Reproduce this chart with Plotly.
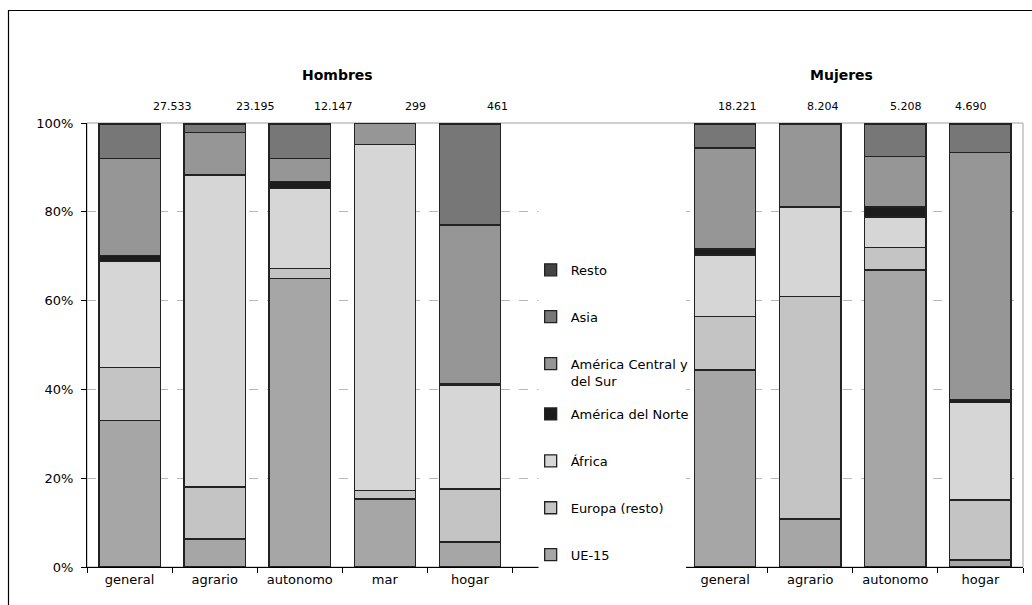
import plotly.graph_objects as go

# Composition of foreign workers by origin, per social-security regime (%)
hombres_cats = ["general", "agrario", "autonomo", "mar", "hogar"]
mujeres_cats = ["general", "agrario", "autonomo", "hogar"]

series_names = [
    "UE-15",
    "Europa (resto)",
    "África",
    "América del Norte",
    "América Central y<br>del Sur",
    "Asia",
    "Resto",
]
series_colors = ["#a6a6a6", "#c4c4c4", "#d6d6d6", "#1c1c1c", "#969696", "#777777", "#444444"]
# lower origins listed in a second legend block so the two-line entry keeps even spacing
series_legend = ["legend2", "legend2", "legend2", "legend2", "legend", "legend", "legend"]

hombres_ue15 = [33.0, 6.3, 64.9, 15.3, 5.6]
hombres_europa = [12.0, 11.7, 2.4, 2.0, 12.0]
hombres_africa = [23.8, 70.2, 18.0, 77.8, 23.4]
hombres_amnorte = [1.4, 0.2, 1.6, 0.0, 0.2]
hombres_amcentral = [21.8, 9.4, 5.1, 4.8, 35.8]
hombres_asia = [7.7, 1.9, 7.7, 0.0, 22.6]
hombres_resto = [0.3, 0.3, 0.3, 0.1, 0.4]

mujeres_ue15 = [44.4, 10.8, 66.9, 1.6]
mujeres_europa = [12.0, 50.1, 5.1, 13.5]
mujeres_africa = [13.9, 20.2, 6.8, 22.0]
mujeres_amnorte = [1.3, 0.1, 2.3, 0.5]
mujeres_amcentral = [22.8, 18.4, 11.3, 55.8]
mujeres_asia = [5.4, 0.0, 7.2, 6.4]
mujeres_resto = [0.2, 0.4, 0.4, 0.2]

hombres_totals = ["27.533", "23.195", "12.147", "299", "461"]
mujeres_totals = ["18.221", "8.204", "5.208", "4.690"]

hombres_series = [hombres_ue15, hombres_europa, hombres_africa, hombres_amnorte,
                  hombres_amcentral, hombres_asia, hombres_resto]
mujeres_series = [mujeres_ue15, mujeres_europa, mujeres_africa, mujeres_amnorte,
                  mujeres_amcentral, mujeres_asia, mujeres_resto]

# slot positions on the shared axis: men 0-4, two empty slots, women 7-10
hombres_x = list(range(len(hombres_cats)))
mujeres_x = [7 + i for i in range(len(mujeres_cats))]
all_x = hombres_x + mujeres_x
all_labels = hombres_cats + mujeres_cats

FONT = "DejaVu Sans"

fig = go.Figure()
n_series = len(series_names)
for i, name in enumerate(series_names):
    fig.add_trace(go.Bar(
        x=all_x,
        y=hombres_series[i] + mujeres_series[i],
        name=name,
        legend=series_legend[i],
        legendgroup=f"g{i}",
        legendrank=n_series - i,  # top of stack listed first
        marker=dict(color=series_colors[i], line=dict(color="#222222", width=1.3)),
        hoverinfo="skip",
    ))

# boundary ticks between slots
boundary_ticks = [v - 0.5 for v in range(12)]

legend_common = dict(
    x=0.474, xanchor="left", yanchor="top",
    bgcolor="rgba(0,0,0,0)",
    traceorder="grouped",
    tracegroupgap=27,
    valign="top",
    itemwidth=30,
    font=dict(family=FONT, size=13),
)

fig.update_layout(
    width=1032,
    height=605,
    margin=dict(l=87, r=9, t=123, b=38),
    paper_bgcolor="white",
    plot_bgcolor="white",
    barmode="stack",
    bargap=0.28,
    font=dict(family=FONT, size=13, color="#000000"),
    showlegend=True,
    legend=dict(y=0.703, **legend_common),
    legend2=dict(y=(567 - 399) / 444, **legend_common),
    xaxis=dict(
        range=[-0.5, 10.5],
        tickvals=all_x,
        ticktext=all_labels,
        ticks="",
        showgrid=False,
        zeroline=False,
        showline=True,
        linecolor="#000000",
        linewidth=1,
        tickfont=dict(family=FONT, size=13),
        minor=dict(tickvals=boundary_ticks, ticks="outside", ticklen=5,
                   tickcolor="#000000", showgrid=False),
    ),
    yaxis=dict(
        range=[0, 100],
        tickvals=[0, 20, 40, 60, 80, 100],
        ticktext=["0%", "20%", "40%", "60%", "80%", "100%"],
        ticks="outside",
        ticklen=5,
        tickcolor="#000000",
        ticklabelstandoff=5,
        showgrid=True,
        gridcolor="#b8b8b8",
        griddash="dash",
        gridwidth=1,
        zeroline=False,
        showline=True,
        linecolor="#000000",
        linewidth=1,
        tickfont=dict(family=FONT, size=13),
    ),
)

# plot-area border (top and right visible in grey)
fig.add_shape(type="rect", xref="x domain", yref="y domain", x0=0, x1=1, y0=0, y1=1,
              line=dict(color="#a0a0a0", width=1), layer="below")
# white panel behind the legend, hiding grid and axis in the empty slots
fig.add_shape(type="rect", xref="paper", yref="paper",
              x0=(538.5 - 87) / 936, x1=(686 - 87) / 936,
              y0=-0.02, y1=(567 - 125) / 444,
              line=dict(width=0), fillcolor="white", layer="above")
# outer chart frame
fig.add_shape(type="rect", xref="paper", yref="paper",
              x0=(8.5 - 87) / 936, x1=(1045 - 87) / 936,
              y0=(567 - 620) / 444, y1=(567 - 10.5) / 444,
              line=dict(color="#000000", width=1.2), fillcolor="rgba(0,0,0,0)", layer="above")

# group titles
fig.add_annotation(text="<b>Hombres</b>", xref="paper", yref="paper",
                   x=(337 - 87) / 936, y=(567 - 75) / 444, showarrow=False,
                   font=dict(family=FONT, size=14), xanchor="center", yanchor="middle")
fig.add_annotation(text="<b>Mujeres</b>", xref="paper", yref="paper",
                   x=(841 - 87) / 936, y=(567 - 75) / 444, showarrow=False,
                   font=dict(family=FONT, size=14), xanchor="center", yanchor="middle")

# worker totals above each bar
hombres_label_shift = [0.51, 0.476, 0.394, 0.359, 0.32]
mujeres_label_shift = [0.147, 0.147, 0.124, -0.112]
for xv, txt, dx in zip(hombres_x, hombres_totals, hombres_label_shift):
    fig.add_annotation(text=txt, x=xv + dx, xref="x", y=(567 - 107) / 444, yref="paper",
                       showarrow=False, font=dict(family=FONT, size=11),
                       xanchor="center", yanchor="middle")
for xv, txt, dx in zip(mujeres_x, mujeres_totals, mujeres_label_shift):
    fig.add_annotation(text=txt, x=xv + dx, xref="x", y=(567 - 107) / 444, yref="paper",
                       showarrow=False, font=dict(family=FONT, size=11),
                       xanchor="center", yanchor="middle")

fig.write_html("out.html")
